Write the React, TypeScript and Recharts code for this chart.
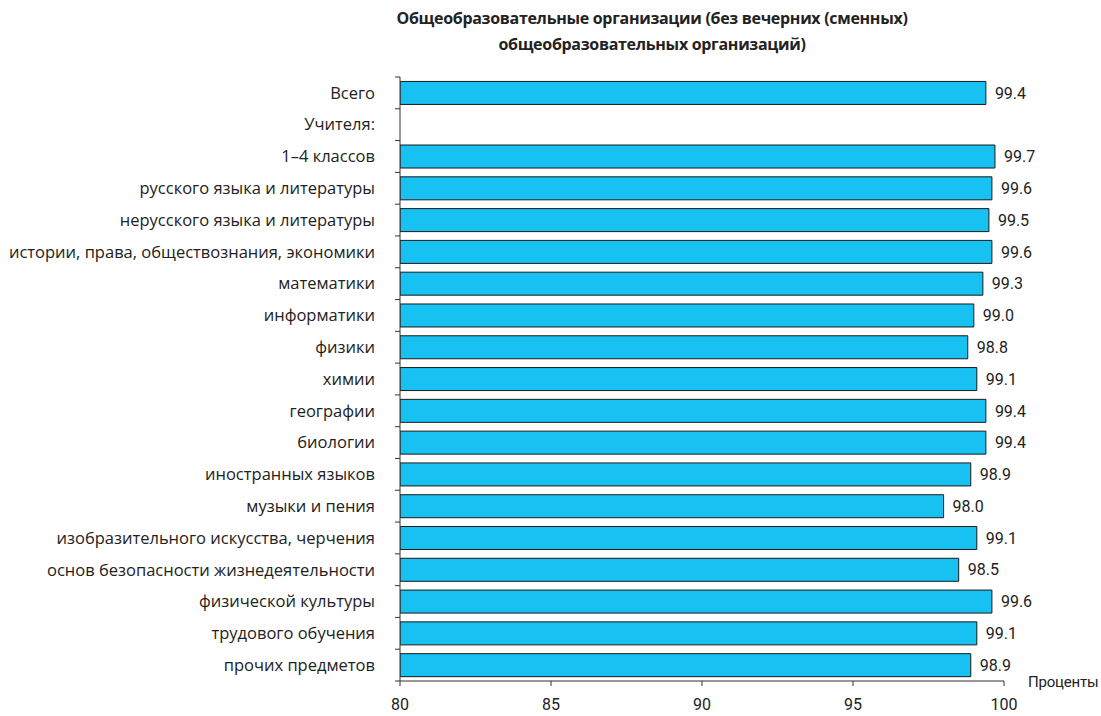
import React from "react";
import { BarChart, Bar, XAxis, YAxis, LabelList } from "recharts";

const categories = [
  "Всего",
  "Учителя:",
  "1–4 классов",
  "русского языка и литературы",
  "нерусского языка и литературы",
  "истории, права, обществознания, экономики",
  "математики",
  "информатики",
  "физики",
  "химии",
  "географии",
  "биологии",
  "иностранных языков",
  "музыки и пения",
  "изобразительного искусства, черчения",
  "основ безопасности жизнедеятельности",
  "физической культуры",
  "трудового обучения",
  "прочих предметов",
];

const values: (number | null)[] = [
  99.4, null, 99.7, 99.6, 99.5, 99.6, 99.3, 99.0, 98.8, 99.1, 99.4, 99.4, 98.9, 98.0, 99.1, 98.5, 99.6, 99.1, 98.9,
];

const xTicks = [80, 85, 90, 95, 100];

const data = categories.map((name, i) => ({ name, value: values[i] }));

const W = 1101;
const H = 716;
const X_H = 30;
const M = { top: 77, right: 97, bottom: 5, left: 0 };
const Y_W = 400;
const Y_MARGIN = 25;
const band = (H - M.top - M.bottom - X_H) / categories.length;
const FONT = "Roboto, 'Liberation Sans', sans-serif";
const CAT_FONT = "'Open Sans', 'Noto Sans', sans-serif";

const CatTick = (props: any) => {
  const { x, y, payload, index } = props;
  const ax = x + Y_MARGIN;
  return (
    <g>
      <line x1={ax - 5} x2={ax} y1={y - band / 2} y2={y - band / 2} stroke="#333" />
      {index === categories.length - 1 && (
        <line x1={ax - 5} x2={ax} y1={y + band / 2} y2={y + band / 2} stroke="#333" />
      )}
      <text x={x} y={y} dy="0.35em" textAnchor="end" fontSize={16.5} fill="#222" fontFamily={CAT_FONT}>
        {payload.value}
      </text>
    </g>
  );
};

export default function App() {
  return (
    <div style={{ position: "absolute", left: 0, top: 0, width: W, height: H, background: "#fff", overflow: "hidden" }}>
      <div
        style={{
          position: "absolute",
          top: 5,
          left: 0,
          width: 1304,
          textAlign: "center",
          fontFamily: "'Open Sans', sans-serif",
          fontWeight: 700,
          fontSize: 16,
          letterSpacing: -0.3,
          lineHeight: "26px",
          color: "#222",
        }}
      >
        Общеобразовательные организации (без вечерних (сменных)
        <br />
        общеобразовательных организаций)
      </div>
      <BarChart
        width={W}
        height={H}
        data={data}
        layout="vertical"
        margin={M}
        barCategoryGap="14%"
      >
        <XAxis
          type="number"
          domain={[80, 100]}
          ticks={xTicks}
          allowDataOverflow
          height={X_H}
          tickSize={5}
          tickMargin={13}
          stroke="#333"
          tick={{ fontSize: 16, fill: "#222", fontFamily: FONT }}
          label={(p: any) => {
            const vb = p.viewBox;
            return (
              <text
                x={vb.x + vb.width + 24}
                y={vb.y + 1}
                dy="0.35em"
                fontSize={15}
                letterSpacing={-0.2}
                fill="#222"
                fontFamily={FONT}
              >
                Проценты
              </text>
            );
          }}
        />
        <YAxis
          type="category"
          dataKey="name"
          width={Y_W}
          tickSize={0}
          tickMargin={Y_MARGIN}
          stroke="#333"
          interval={0}
          tick={<CatTick />}
        />
        <Bar dataKey="value" fill="#17C1F1" stroke="#1a1a1a" strokeWidth={1} isAnimationActive={false}>
          <LabelList
            dataKey="value"
            position="right"
            offset={9}
            fontSize={16}
            fill="#222"
            fontFamily={FONT}
            formatter={(v: any) => (v == null ? "" : Number(v).toFixed(1))}
          />
        </Bar>
      </BarChart>
    </div>
  );
}
